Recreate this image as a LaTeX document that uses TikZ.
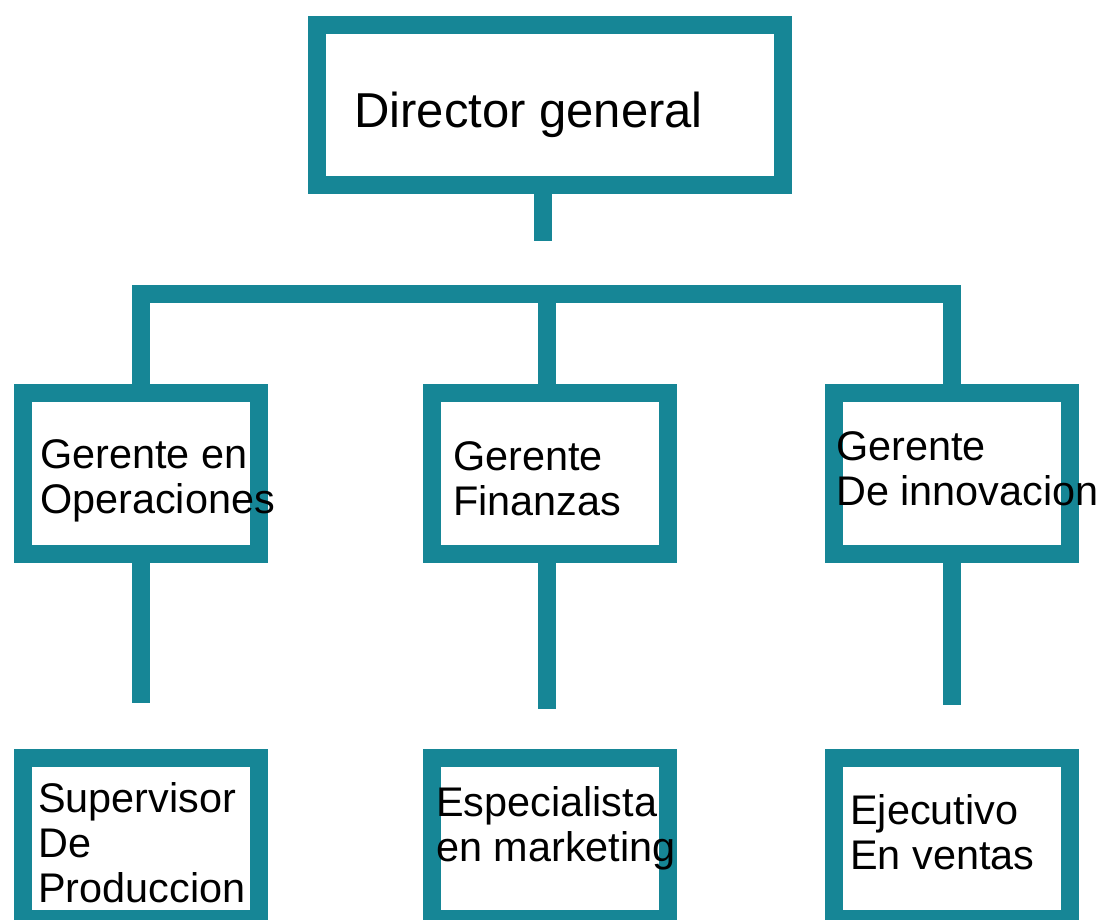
\documentclass[tikz,border=0pt]{standalone}
\usepackage{fontspec}
\setmainfont{Liberation Sans}
\definecolor{teal1}{RGB}{22,134,150}
\begin{document}
\begin{tikzpicture}[x=1pt,y=-1pt,
  box/.style={draw=teal1, line width=18pt, minimum width=236pt, minimum height=161pt, inner sep=0pt, fill=white},
  conn/.style={draw=teal1, line width=18pt, line cap=butt, line join=miter},
  lbl/.style={anchor=north west, inner sep=0pt, align=left, font=\fontsize{41.4}{45}\selectfont, text=black},
  biglbl/.style={anchor=north west, inner sep=0pt, font=\fontsize{49}{56}\selectfont, text=black}]
\useasboundingbox (0,0) rectangle (1105,920);
\clip (0,0) rectangle (1105,920);
\fill[white] (0,0) rectangle (1105,920);
% boxes
\node[box, minimum width=466pt, minimum height=160pt] (dg) at (550,105) {};
\node[box] (op)  at (140.5,473.5) {};
\node[box] (fin) at (550,473.5) {};
\node[box] (inn) at (952,473.5) {};
\node[box] (sup) at (140.5,838.5) {};
\node[box] (esp) at (550,838.5) {};
\node[box] (eje) at (952,838.5) {};
% connectors
\coordinate (dgstem) at (543,241);
\draw[conn] (dgstem |- dg.south) -- (dgstem);
\coordinate (bar) at (140.5,294);
\draw[conn] (op.north) -- (op.north |- bar) -- (inn.north |- bar) -- (inn.north);
\coordinate (barM) at (547,294);
\draw[conn] (barM) -- (barM |- fin.north);
\coordinate (s1) at (140.5,703);
\coordinate (s2) at (547,709);
\coordinate (s3) at (952,705);
\draw[conn] (op.south) -- (s1);
\draw[conn] (s2 |- fin.south) -- (s2);
\draw[conn] (inn.south) -- (s3);
% labels
\node[biglbl] (tdg) at (354,92) {Director general};
\node[lbl] (top) at (40,439) {Gerente en\\Operaciones};
\node[lbl] (tfin) at (453,441) {Gerente\\Finanzas};
\node[lbl] (tinn) at (836,431) {Gerente\\De innovacion};
\node[lbl] (tsup) at (38,782) {Supervisor\\De\\Produccion};
\node[lbl] (tesp) at (436,786) {Especialista\\en marketing};
\node[lbl] (teje) at (850,794) {Ejecutivo\\En ventas};
\end{tikzpicture}
\end{document}
